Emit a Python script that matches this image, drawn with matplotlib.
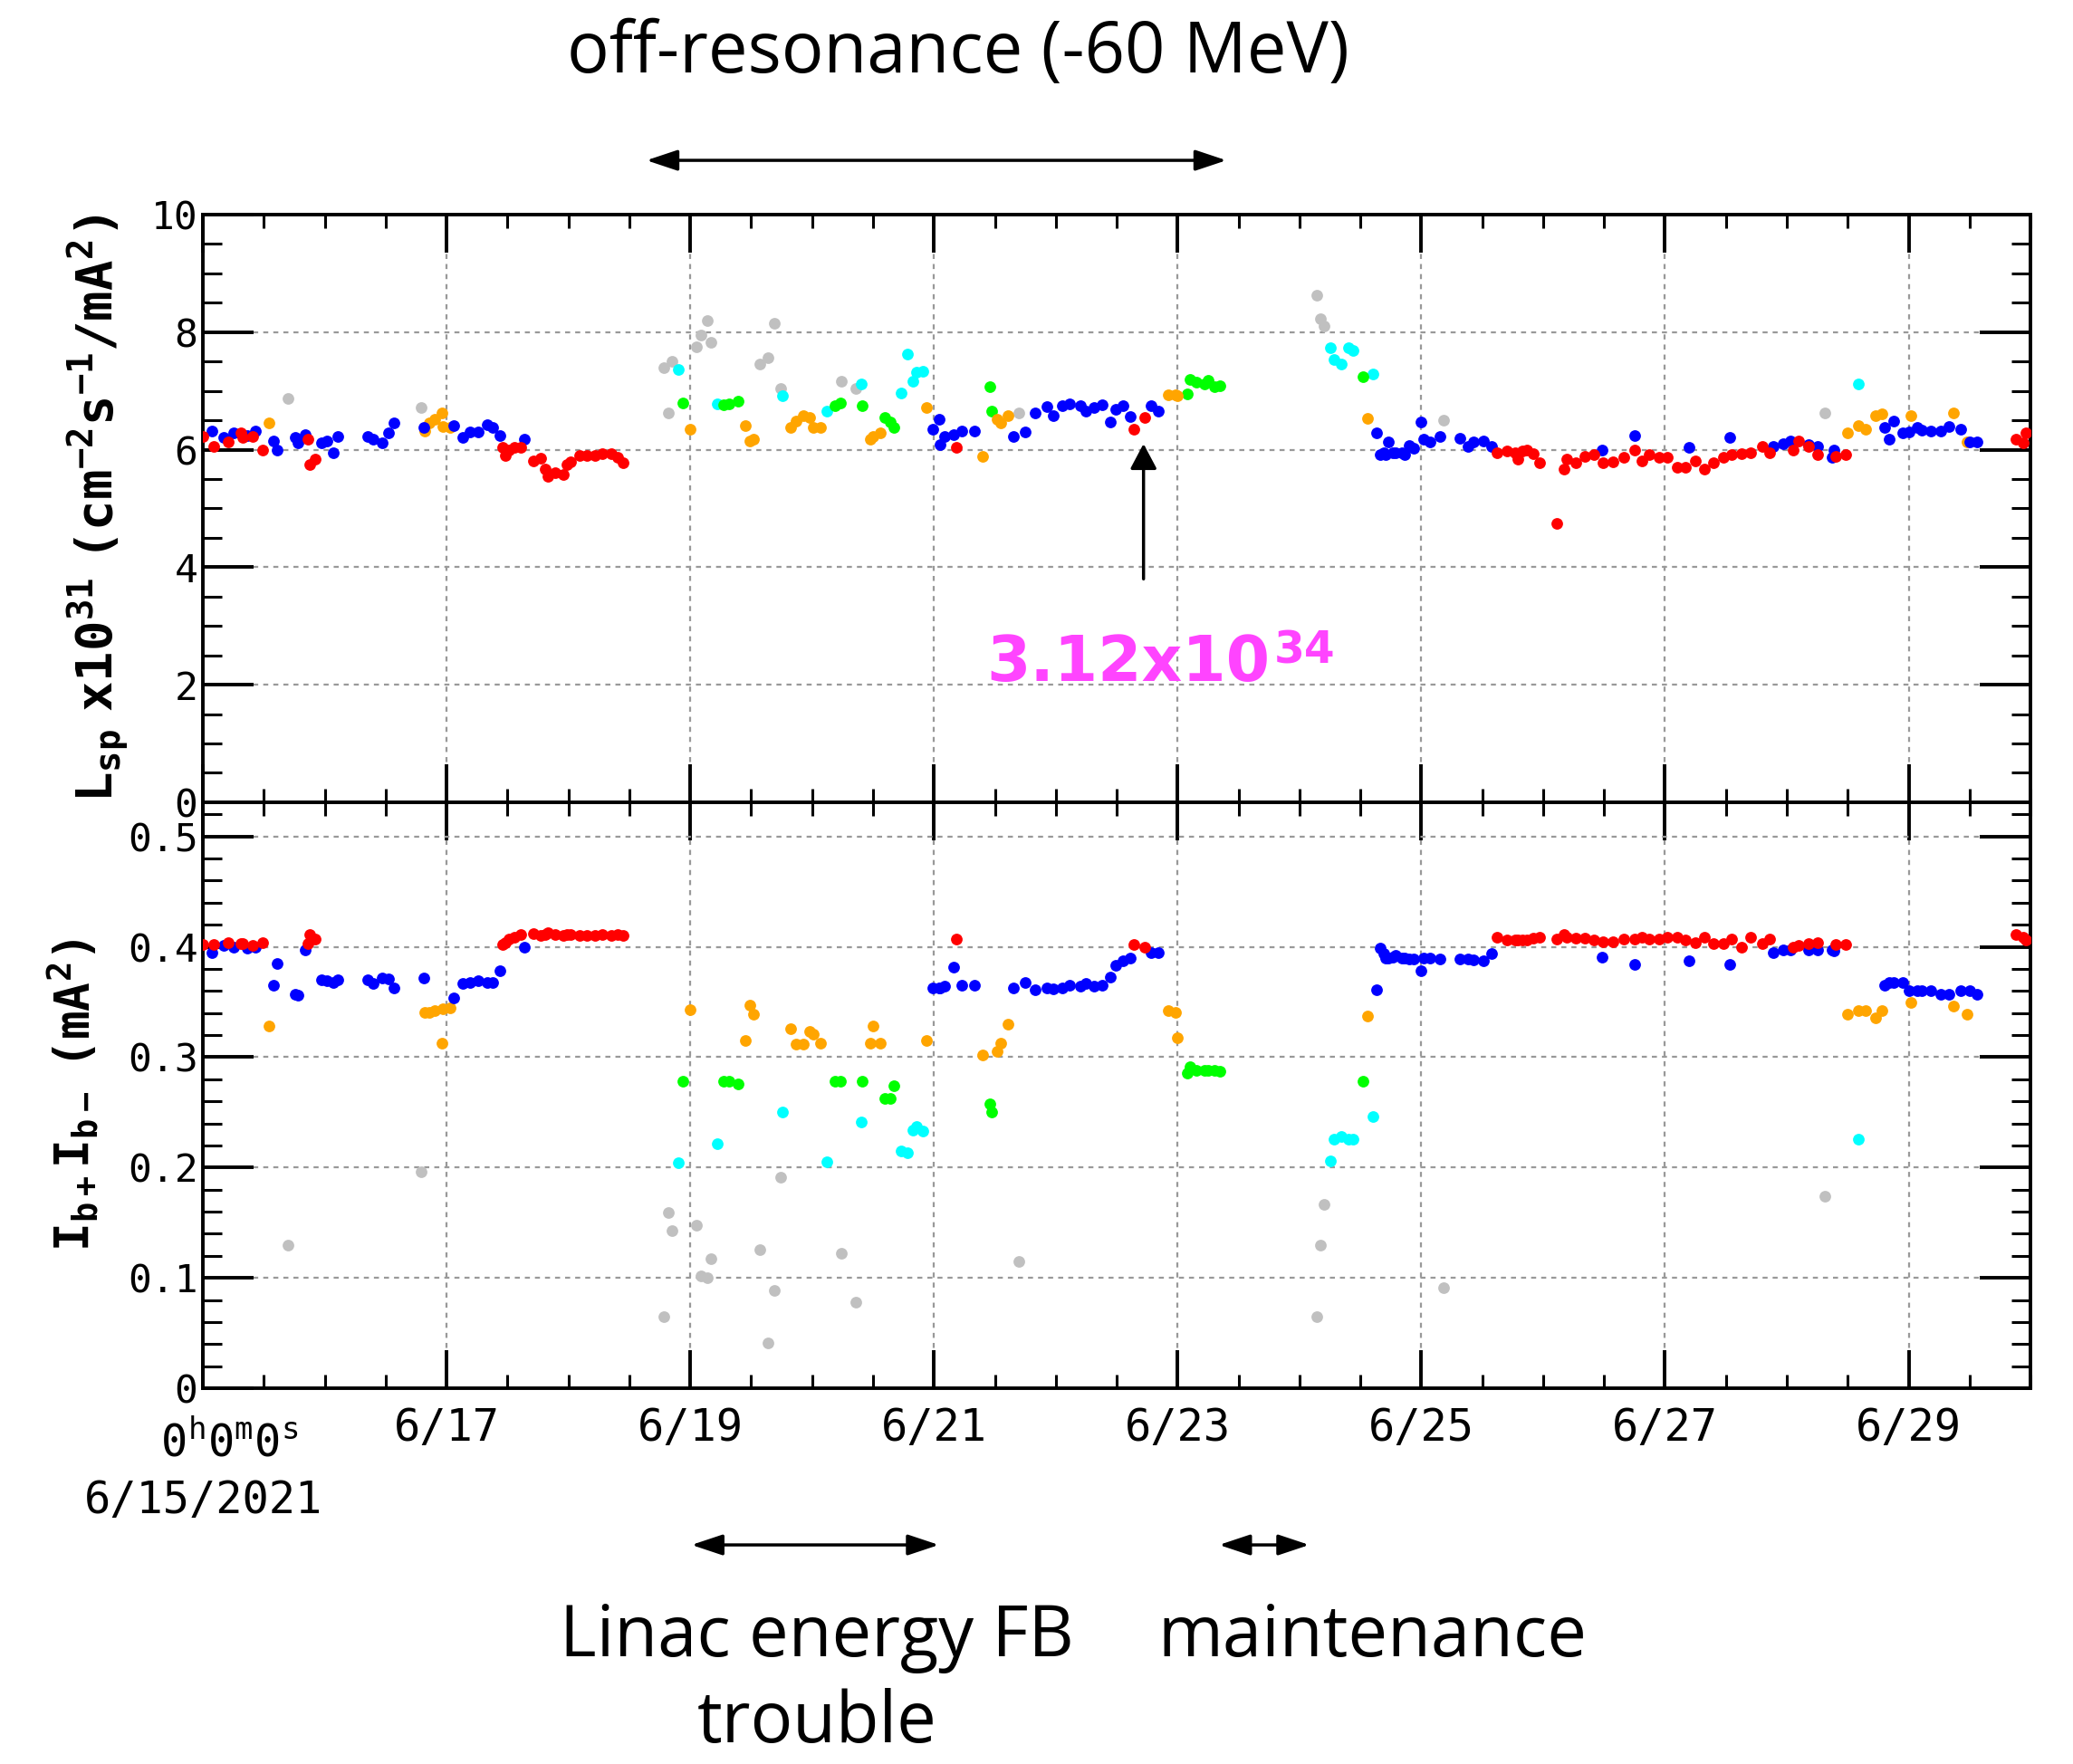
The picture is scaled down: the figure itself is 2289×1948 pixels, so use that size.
import matplotlib
matplotlib.use('Agg')
import matplotlib.pyplot as plt
from matplotlib.ticker import MultipleLocator, FixedLocator

# time = days since 6/15/2021 0:00, lsp = specific luminosity (x1e31), ib = Ib+ * Ib- (mA^2)

red_t = [0.0, 0.09, 0.21, 0.31, 0.33, 0.41, 0.49, 0.86, 0.88, 0.92,
         2.46, 2.48, 2.51, 2.56, 2.61, 2.71, 2.77, 2.81, 2.83, 2.89, 2.96, 2.99, 3.02, 3.09, 3.15,
         3.22, 3.28, 3.35, 3.40, 3.45,
         6.18, 7.64, 7.73,
         10.62, 10.70, 10.77, 10.79, 10.83, 10.87, 10.92, 10.97, 11.11, 11.17, 11.19, 11.27, 11.34,
         11.42, 11.49, 11.57, 11.66, 11.75, 11.81, 11.87, 11.95, 12.02, 12.10, 12.17, 12.25, 12.32,
         12.40, 12.48, 12.55, 12.63, 12.70, 12.80, 12.86, 13.05, 13.10, 13.18, 13.25, 13.40, 13.48,
         14.88, 14.94, 14.96]
red_lsp = [6.22, 6.05, 6.13, 6.29, 6.21, 6.22, 6.00, 6.17, 5.75, 5.84,
           6.04, 5.90, 6.00, 6.04, 6.04, 5.80, 5.85, 5.67, 5.54, 5.60, 5.57, 5.74, 5.79, 5.90, 5.90,
           5.90, 5.93, 5.93, 5.87, 5.77,
           6.04, 6.34, 6.55,
           5.94, 5.97, 5.95, 5.84, 5.97, 5.99, 5.93, 5.77, 4.75, 5.67, 5.84, 5.77, 5.89,
           5.91, 5.77, 5.79, 5.87, 6.00, 5.80, 5.91, 5.87, 5.87, 5.70, 5.70, 5.80, 5.67,
           5.77, 5.87, 5.91, 5.93, 5.95, 6.06, 5.95, 6.00, 6.14, 6.06, 5.91, 5.89, 5.91,
           6.18, 6.11, 6.29]
red_ib = [0.402, 0.402, 0.404, 0.403, 0.403, 0.401, 0.404, 0.403, 0.411, 0.407,
          0.402, 0.404, 0.407, 0.409, 0.411, 0.412, 0.410, 0.411, 0.413, 0.411, 0.410, 0.411, 0.411,
          0.410, 0.410, 0.410, 0.411, 0.410, 0.411, 0.410,
          0.407, 0.402, 0.400,
          0.409, 0.406, 0.406, 0.406, 0.406, 0.406, 0.408, 0.409, 0.407, 0.411, 0.409, 0.408, 0.408,
          0.406, 0.405, 0.405, 0.407, 0.407, 0.409, 0.407, 0.407, 0.409, 0.409, 0.406, 0.404, 0.409,
          0.403, 0.403, 0.407, 0.400, 0.409, 0.403, 0.407, 0.400, 0.401, 0.403, 0.404, 0.402, 0.402,
          0.411, 0.409, 0.406]

blue_t = [0.07, 0.17, 0.25, 0.36, 0.43, 0.58, 0.61, 0.76, 0.78, 0.84, 0.97, 1.02, 1.07, 1.11,
          1.35, 1.40, 1.47, 1.52, 1.57, 1.81, 2.06, 2.13, 2.19, 2.26, 2.33, 2.38, 2.44, 2.64,
          5.99, 6.04, 6.05, 6.09, 6.16, 6.23, 6.33, 6.65, 6.75, 6.83, 6.93, 6.98, 7.05, 7.11,
          7.20, 7.25, 7.31, 7.38, 7.45, 7.49, 7.55, 7.61, 7.78, 7.84,
          9.63, 9.66, 9.69, 9.71, 9.73, 9.77, 9.79, 9.84, 9.86, 9.90, 9.94, 10.00, 10.02, 10.07,
          10.15, 10.32, 10.38, 10.43, 10.51, 10.58,
          11.48, 11.75, 12.20, 12.53, 12.89, 12.97, 13.03, 13.18, 13.25, 13.37, 13.39,
          13.80, 13.84, 13.88, 13.95, 14.00, 14.07, 14.11, 14.18, 14.26, 14.33, 14.43, 14.50, 14.56]
blue_lsp = [6.31, 6.21, 6.28, 6.24, 6.31, 6.14, 6.00, 6.21, 6.11, 6.26, 6.11, 6.14, 5.95, 6.22,
            6.22, 6.17, 6.11, 6.28, 6.46, 6.38, 6.41, 6.21, 6.30, 6.30, 6.42, 6.38, 6.24, 6.17,
            6.34, 6.51, 6.09, 6.23, 6.25, 6.32, 6.31, 6.22, 6.30, 6.63, 6.73, 6.58, 6.75, 6.78,
            6.75, 6.65, 6.72, 6.76, 6.47, 6.68, 6.75, 6.57, 6.74, 6.65,
            6.29, 5.91, 5.94, 5.91, 6.13, 5.94, 5.95, 5.94, 5.91, 6.07, 6.02, 6.47, 6.18, 6.13,
            6.22, 6.20, 6.06, 6.13, 6.14, 6.06,
            6.00, 6.24, 6.04, 6.21, 6.06, 6.10, 6.14, 6.08, 6.06, 5.87, 6.00,
            6.38, 6.18, 6.48, 6.28, 6.30, 6.38, 6.33, 6.31, 6.31, 6.40, 6.34, 6.13, 6.13]
blue_ib = [0.395, 0.401, 0.400, 0.399, 0.400, 0.365, 0.385, 0.357, 0.356, 0.397, 0.370, 0.369,
           0.368, 0.370, 0.370, 0.367, 0.372, 0.371, 0.363, 0.372, 0.354, 0.367, 0.368, 0.369,
           0.368, 0.368, 0.378, 0.400,
           0.363, 0.363, 0.363, 0.364, 0.382, 0.365, 0.365, 0.363, 0.368, 0.361, 0.363, 0.362,
           0.363, 0.365, 0.364, 0.367, 0.364, 0.365, 0.373, 0.383, 0.387, 0.390, 0.395, 0.395,
           0.361, 0.399, 0.394, 0.390, 0.390, 0.391, 0.392, 0.390, 0.390, 0.389, 0.389, 0.378,
           0.390, 0.390, 0.389, 0.389, 0.389, 0.388, 0.387, 0.394,
           0.391, 0.384, 0.387, 0.384, 0.395, 0.397, 0.397, 0.397, 0.397, 0.397, 0.396,
           0.365, 0.368, 0.368, 0.368, 0.360, 0.360, 0.360, 0.360, 0.357, 0.357, 0.360, 0.360, 0.357]

orange_t = [0.545, 1.82, 1.86, 1.90, 1.96, 1.97, 2.03,
            4.00, 4.45, 4.49, 4.52, 4.82, 4.87, 4.93, 4.98, 5.01, 5.07, 5.48, 5.50, 5.56, 5.94,
            6.40, 6.52, 6.55, 6.61, 7.92, 7.98, 8.00,
            9.56,
            13.50, 13.59, 13.65, 13.73, 13.78, 14.02, 14.37, 14.48]
orange_lsp = [6.46, 6.31, 6.45, 6.51, 6.62, 6.40, 6.38,
              6.34, 6.41, 6.14, 6.17, 6.38, 6.48, 6.58, 6.55, 6.38, 6.38, 6.18, 6.22, 6.28, 6.72,
              5.89, 6.51, 6.45, 6.58, 6.93, 6.93, 6.92,
              6.53,
              6.29, 6.41, 6.34, 6.58, 6.61, 6.58, 6.63, 6.13]
orange_ib = [0.328, 0.341, 0.341, 0.342, 0.313, 0.344, 0.345,
             0.343, 0.315, 0.347, 0.339, 0.326, 0.312, 0.312, 0.323, 0.321, 0.313, 0.313, 0.328,
             0.313, 0.315, 0.302, 0.305, 0.313, 0.330, 0.342, 0.341, 0.318,
             0.337,
             0.339, 0.342, 0.342, 0.336, 0.342, 0.350, 0.346, 0.339]

green_t = [3.94, 4.27, 4.32, 4.39, 5.19, 5.23, 5.41, 5.60, 5.64, 5.67, 6.46, 6.47,
           8.08, 8.10, 8.15, 8.22, 8.25, 8.30, 8.35, 9.52]
green_lsp = [6.79, 6.76, 6.78, 6.83, 6.75, 6.80, 6.75, 6.55, 6.47, 6.38, 7.07, 6.66,
             6.95, 7.20, 7.15, 7.12, 7.18, 7.07, 7.09, 7.24]
green_ib = [0.278, 0.278, 0.278, 0.276, 0.278, 0.278, 0.278, 0.263, 0.263, 0.274, 0.258, 0.250,
            0.286, 0.291, 0.288, 0.288, 0.288, 0.288, 0.287, 0.278]

cyan_t = [3.90, 4.22, 4.76, 5.12, 5.40, 5.73, 5.78, 5.83, 5.86, 5.91,
          9.25, 9.28, 9.34, 9.40, 9.44, 9.60, 13.59]
cyan_lsp = [7.37, 6.78, 6.91, 6.66, 7.11, 6.97, 7.63, 7.17, 7.32, 7.34,
            7.74, 7.53, 7.46, 7.74, 7.68, 7.29, 7.12]
cyan_ib = [0.204, 0.222, 0.250, 0.205, 0.241, 0.215, 0.213, 0.234, 0.237, 0.233,
           0.206, 0.226, 0.228, 0.226, 0.226, 0.246, 0.226]

grey_t = [0.70, 1.79, 3.78, 3.82, 3.85, 4.05, 4.09, 4.14, 4.17, 4.57, 4.64, 4.69, 4.74,
          5.24, 5.36, 6.70, 9.14, 9.17, 9.20, 10.18, 13.31]
grey_lsp = [6.87, 6.71, 7.40, 6.62, 7.50, 7.75, 7.95, 8.19, 7.82, 7.45, 7.56, 8.15, 7.04,
            7.17, 7.04, 6.63, 8.62, 8.22, 8.10, 6.50, 6.63]
grey_ib = [0.130, 0.196, 0.065, 0.159, 0.143, 0.148, 0.102, 0.100, 0.117, 0.126, 0.041, 0.089,
           0.191, 0.122, 0.078, 0.115, 0.065, 0.130, 0.167, 0.091, 0.174]

day_ticks = [0, 2, 4, 6, 8, 10, 12, 14]
day_labels = ['  $\\mathregular{0^h0^m0^s}$\n6/15/2021', '6/17', '6/19', '6/21', '6/23', '6/25',
              '6/27', '6/29']

series = [(grey_t, grey_lsp, grey_ib, '#c0c0c0'),
          (cyan_t, cyan_lsp, cyan_ib, '#00ffff'),
          (green_t, green_lsp, green_ib, '#00ff00'),
          (orange_t, orange_lsp, orange_ib, '#ffa500'),
          (blue_t, blue_lsp, blue_ib, '#0000ff'),
          (red_t, red_lsp, red_ib, '#ff0000')]

mono = 'DejaVu Sans Mono'
fig = plt.figure(figsize=(22.89, 19.48), dpi=100)
ax1 = fig.add_axes([0.0979, 0.5452, 0.8816, 0.3332])
ax2 = fig.add_axes([0.0979, 0.2130, 0.8816, 0.3322])

for t, l, ib, c in series:
    ax1.scatter(t, l, s=85, color=c, linewidths=0, zorder=3)
    ax2.scatter(t, ib, s=85, color=c, linewidths=0, zorder=3)

ax1.set_ylim(0, 10)
ax2.set_ylim(0, 0.531)
for ax in (ax1, ax2):
    ax.set_xlim(0, 15)
    ax.xaxis.set_major_locator(FixedLocator(day_ticks))
    ax.xaxis.set_minor_locator(MultipleLocator(0.5))
    for s in ax.spines.values():
        s.set_linewidth(2.8)
    ax.tick_params(which='both', direction='in', top=True, right=True)
    ax.tick_params(axis='x', which='major', length=30, width=2.8, pad=14, labelsize=35)
    ax.tick_params(axis='x', which='minor', length=11, width=2.2)
    ax.tick_params(axis='y', which='major', length=40, width=2.8, pad=4, labelsize=31)
    ax.tick_params(axis='y', which='minor', length=15, width=2.2)
    ax.grid(True, which='major', color='#999999', linestyle=(0, (2.5, 2.5)), linewidth=1.6)

ax1.set_yticks([0, 2, 4, 6, 8, 10])
ax1.set_yticklabels(['0', '2', '4', '6', '8', '10'], fontfamily=mono)
ax1.yaxis.set_minor_locator(MultipleLocator(0.5))
ax1.tick_params(labelbottom=False)

ax2.set_yticks([0, 0.1, 0.2, 0.3, 0.4, 0.5])
ax2.set_yticklabels(['0', '0.1', '0.2', '0.3', '0.4', '0.5'], fontfamily=mono)
ax2.yaxis.set_minor_locator(MultipleLocator(0.02))
ax2.set_xticklabels(day_labels, fontfamily=mono)
# start-of-range label sits a bit lower with wider line gap
first = ax2.get_xticklabels()[0]
first.set_y(-0.025)
first.set_linespacing(1.4)

ax1.set_ylabel(r'$\mathregular{L_{sp}\ x10^{31}\ (cm^{-2}s^{-1}/mA^{2})}$',
               fontfamily=mono, fontweight='bold', fontsize=40)
ax1.yaxis.set_label_coords(-0.039, 0.5)
ax2.set_ylabel(r'$\mathregular{I_{b+}I_{b-}\ (mA^{2})}$',
               fontfamily=mono, fontweight='bold', fontsize=38)
ax2.yaxis.set_label_coords(-0.056, 0.5)

# peak luminosity marker
ax1.annotate('', xy=(7.72, 6.1), xytext=(7.72, 3.8),
             arrowprops=dict(arrowstyle='-|>,head_length=0.85,head_width=0.45',
                             mutation_scale=20, color='black', lw=2.5, shrinkA=0, shrinkB=0))
peak = ax1.text(6.43, 2.06, '3.12x10', color='#ff44ff', fontsize=50,
                fontweight='bold', fontfamily='DejaVu Sans', ha='left', va='baseline')
ax1.annotate('34', xy=(1, 0.8), xycoords=peak, xytext=(3, 13), textcoords='offset points',
             color='#ff44ff', fontsize=35, fontweight='bold', fontfamily='DejaVu Sans',
             ha='left', va='top')

# period arrows above and below the plot
arrow2 = dict(arrowstyle='<|-|>,head_length=1.05,head_width=0.35', mutation_scale=20,
              color='black', lw=2.5, shrinkA=0, shrinkB=0)
ax1.annotate('', xy=(3.64, 0.9091), xytext=(8.40, 0.9091),
             xycoords=('data', 'figure fraction'), textcoords=('data', 'figure fraction'),
             arrowprops=arrow2, annotation_clip=False)
ax2.annotate('', xy=(4.01, 0.1242), xytext=(6.04, 0.1242),
             xycoords=('data', 'figure fraction'), textcoords=('data', 'figure fraction'),
             arrowprops=arrow2, annotation_clip=False)
ax2.annotate('', xy=(8.34, 0.1242), xytext=(9.08, 0.1242),
             xycoords=('data', 'figure fraction'), textcoords=('data', 'figure fraction'),
             arrowprops=arrow2, annotation_clip=False)

ann = dict(fontfamily='Open Sans', fontsize=56, va='baseline', ha='center')
fig.text(0.4622, 0.959, 'off-resonance (-60 MeV)', **ann)
fig.text(0.394, 0.0611, 'Linac energy FB', **ann)
fig.text(0.394, 0.0125, 'trouble', **ann)
fig.text(0.662, 0.0611, 'maintenance', **ann)

fig.savefig('out.png', dpi=100)
